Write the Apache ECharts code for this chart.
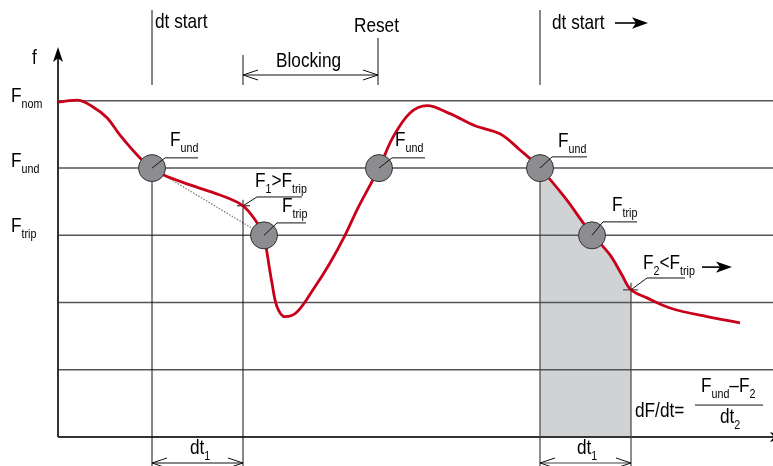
<!DOCTYPE html>
<html>
<head>
<meta charset="UTF-8">
<title>df/dt</title>
<script src="https://cdn.jsdelivr.net/npm/echarts@6/dist/echarts.min.js"></script>
<style>
  html, body {margin: 0; padding: 0; background: #fff;}
  #chart {width: 773px; height: 466px;}
</style>
</head>
<body>
<div id="chart"></div>
<script>
// axis ranges (time units / frequency levels)
const T_MIN = -58, T_MAX = 715, Y_MIN = -0.43, Y_MAX = 6.5;
const W = 773, H = 466;
const PX_T = W / (T_MAX - T_MIN);
const PX_Y = H / (Y_MAX - Y_MIN);

// frequency levels: 3 = F_trip, 4 = F_und, 5 = F_nom
const levels = [1, 2, 3, 4, 5];
const F_TRIP = 3, F_UND = 4;

// frequency curve
const curveT = [0, 19, 35, 49, 62, 82, 94, 105, 132, 162, 185, 199, 206, 209, 214, 219, 227, 239, 255, 272, 287, 300, 321, 335, 352, 369, 392, 417, 442, 462, 482, 507, 532, 552, 564, 573, 589, 612, 649, 682];
const curveF = [4.98, 5.01, 4.91, 4.75, 4.49, 4.15, 4.0, 3.9, 3.75, 3.6, 3.44, 3.19, 3.0, 2.74, 2.29, 1.94, 1.79, 1.86, 2.19, 2.59, 3.0, 3.41, 4.0, 4.46, 4.82, 4.93, 4.81, 4.63, 4.51, 4.27, 4.0, 3.56, 3.05, 2.71, 2.41, 2.19, 2.07, 1.92, 1.79, 1.7];

// threshold crossings
const circleT = [94, 206, 321, 482, 534];
const circleF = [F_UND, F_TRIP, F_UND, F_UND, F_TRIP];

// events on the time axis
const tStart1 = 94, tBlock = 185, tReset = 320, tStart2 = 482, tEnd2 = 573;
const f1 = 3.44, f2 = 2.19;

const FONT = "'Liberation Sans', Arial, sans-serif";
const INK = '#000';

const curve = curveT.map((t, i) => [t, curveF[i]]);
const shade = curve.filter(p => p[0] >= tStart2 && p[0] <= tEnd2);

const ux = px => px / PX_T;
const uy = px => px / PX_Y;

function chevron(t, y, dir) {
  const a = t - dir * ux(15);
  return {coords: [[a, y + uy(5)], [t, y], [a, y - uy(5)]]};
}
function seg(a, b) { return {coords: [a, b]}; }

const topY = Y_MAX - uy(10), capY = Y_MAX - uy(85);
const blockY = Y_MAX - uy(75), dimY = Y_MIN + uy(3);

const gridLines = levels.map(l => seg([0, l], [T_MAX, l]));

const blackLines = [
  seg([tStart1, topY], [tStart1, capY]),
  seg([tStart2, topY], [tStart2, capY]),
  seg([tBlock, Y_MAX - uy(55)], [tBlock, capY]),
  seg([tReset, Y_MAX - uy(38)], [tReset, capY]),
  seg([tStart1, F_UND], [tStart1, Y_MIN]),
  seg([tBlock, f1 + uy(6)], [tBlock, Y_MIN]),
  seg([tBlock - ux(6), f1], [tBlock + ux(7), f1]),
  seg([tBlock, blockY], [tReset, blockY]),
  seg([tStart1, dimY], [tBlock, dimY]),
  seg([637, 0.476], [705, 0.476])
];
const grayLines = [
  seg([tStart2, F_UND], [tStart2, Y_MIN]),
  seg([tEnd2, f2 + uy(7)], [tEnd2, Y_MIN]),
  seg([tEnd2 - ux(8), f2], [tEnd2 + ux(7), f2]),
  seg([tStart2, dimY], [tEnd2, dimY])
];
const chevrons = [
  chevron(tBlock, blockY, -1), chevron(tReset, blockY, 1),
  chevron(tStart1, dimY, -1), chevron(tBlock, dimY, 1),
  chevron(tStart2, dimY, -1), chevron(tEnd2, dimY, 1)
];
const leaders = [
  {coords: [[circleT[0], F_UND], [107, 4.152], [140, 4.152]]},
  {coords: [[circleT[1], F_TRIP], [219, 3.185], [248, 3.185]]},
  {coords: [[circleT[2], F_UND], [334, 4.152], [367, 4.152]]},
  {coords: [[circleT[3], F_UND], [494, 4.167], [529, 4.167]]},
  {coords: [[circleT[4], F_TRIP], [545, 3.2], [579, 3.2]]},
  {coords: [[tBlock, f1], [199, 3.571], [244, 3.571]]},
  {coords: [[tEnd2, f2], [589, 2.366], [627, 2.366]]}
];

// filled arrows: the arrow symbol's tip sits at its anchor point
const arrows = [
  {tip: [0, Y_MAX - uy(47)], rot: 0, w: 7.5, h: 15},
  {tip: [T_MAX + 12, 0], rot: -90, w: 7.5, h: 15},
  {tip: [590, Y_MAX - uy(23)], rot: -90, w: 8.5, h: 16},
  {tip: [674, 2.528], rot: -90, w: 8.5, h: 16}
];
const arrowData = arrows.map(a => ({value: a.tip, symbolRotate: a.rot, symbolSize: [a.w, a.h]}));
const shafts = [
  seg([0, 0], [0, Y_MAX - uy(55)]),
  seg([0, 0], [T_MAX, 0])
];
const thinShafts = [
  seg([557, Y_MAX - uy(23)], [582, Y_MAX - uy(23)]),
  seg([644, 2.528], [666, 2.528])
];

const notes = [
  [-47, 5.07, 'F{s|nom}'],
  [-47, 4.105, 'F{s|und}'],
  [-47, 3.138, 'F{s|trip}'],
  [-26, 5.636, 'f'],
  [112, 4.417, 'F{s|und}'],
  [197, 3.807, 'F{s|1}>F{s|trip}'],
  [224, 3.435, 'F{s|trip}'],
  [337, 4.417, 'F{s|und}'],
  [500, 4.402, 'F{s|und}'],
  [554, 3.45, 'F{s|trip}'],
  [585, 2.588, 'F{s|2}<F{s|trip}'],
  [97, 6.172, 'dt start'],
  [296, 6.112, 'Reset'],
  [218, 5.592, 'Blocking'],
  [494, 6.157, 'dt start'],
  [132, -0.164, 'dt{s|1}'],
  [519, -0.164, 'dt{s|1}'],
  [577, 0.387, 'dF/dt='],
  [643, 0.758, 'F{s|und}\u2013F{s|2}'],
  [662, 0.297, 'dt{s|2}']
];

function linesSeries(data, color, width, z, extra) {
  return Object.assign({
    type: 'lines', coordinateSystem: 'cartesian2d', polyline: true,
    data: data, z: z, silent: true,
    lineStyle: {color: color, width: width, opacity: 1}
  }, extra || {});
}

const chart = echarts.init(document.getElementById('chart'), null, {renderer: 'canvas'});
chart.setOption({
  animation: false,
  grid: {left: 0, right: 0, top: 0, bottom: 0},
  xAxis: {type: 'value', min: T_MIN, max: T_MAX, show: false},
  yAxis: {type: 'value', min: Y_MIN, max: Y_MAX, show: false},
  series: [
    {
      type: 'line', data: shade, smooth: 0.35, symbol: 'none', z: 1,
      lineStyle: {width: 0}, areaStyle: {color: '#d1d2d4', origin: 0, opacity: 1}
    },
    linesSeries(gridLines, '#555', 1.5, 2),
    linesSeries(shafts, '#333', 2, 2),
    linesSeries(blackLines, '#111', 1, 2),
    linesSeries(grayLines, '#444', 1.2, 2),
    linesSeries(chevrons, '#111', 1, 2),
    linesSeries(thinShafts, '#000', 1.6, 2),
    linesSeries([seg([circleT[0], F_UND], [circleT[1], F_TRIP])], '#000', 1.3, 2,
      {lineStyle: {color: '#000', width: 1.3, type: [1.5, 1.5]}}),
    {
      type: 'line', data: curve, smooth: 0.35, symbol: 'none', z: 3,
      lineStyle: {color: '#c8001a', width: 2.8}
    },
    {
      type: 'scatter', data: arrowData, symbol: 'arrow', z: 3, silent: true, clip: false,
      itemStyle: {color: '#000', opacity: 1}
    },
    {
      type: 'scatter', data: circleT.map((t, i) => [t, circleF[i]]), symbolSize: 27, z: 4, silent: true,
      itemStyle: {color: '#8d8d91', borderColor: '#333', borderWidth: 1, opacity: 1}
    },
    linesSeries(leaders, '#111', 1, 5)
  ]
});

// condensed text: placed through the grid's scales, squeezed horizontally
chart.setOption({
  graphic: notes.map(n => {
    const p = chart.convertToPixel({gridIndex: 0}, [n[0], n[1]]);
    return {
      type: 'text', x: p[0], y: p[1], scaleX: 0.82, silent: true, z: 10,
      style: {
        text: n[2], fill: INK, fontSize: 21, fontFamily: FONT, lineHeight: 22,
        align: 'left', verticalAlign: 'middle',
        rich: {
          s: {fontSize: 13, fontFamily: FONT, lineHeight: 13, padding: [17, 0, 0, 0], fill: INK}
        }
      }
    };
  })
});
</script>
</body>
</html>
